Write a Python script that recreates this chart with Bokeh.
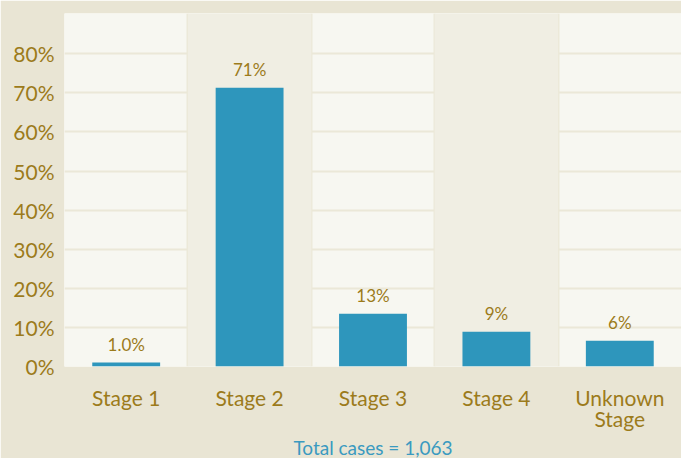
from bokeh.plotting import figure
from bokeh.models import FixedTicker, PrintfTickFormatter, ColumnDataSource, Range1d, BoxAnnotation, Title
from bokeh.core.properties import value
from bokeh.embed import file_html
from bokeh.resources import INLINE

categories = ["Stage 1", "Stage 2", "Stage 3", "Stage 4", "Unknown\nStage"]
shares = [1.0, 71.3, 13.5, 8.9, 6.6]
share_labels = ["1.0%", "71%", "13%", "9%", "6%"]
y_ticks = [0, 10, 20, 30, 40, 50, 60, 70, 80]
total_label = "Total cases = 1,063"

GOLD = "#9c7b1b"
BLUE = "#2e96bc"
FONT = "Lato"

xs = [i + 0.5 for i in range(len(categories))]
src = ColumnDataSource(dict(x=xs, top=shares, lab=share_labels))

p = figure(width=681, height=458, output_backend="svg", toolbar_location=None,
           x_range=Range1d(0, len(categories)), y_range=Range1d(0, 90.3),
           min_border_left=64, min_border_right=0, min_border_top=13, min_border_bottom=92)
p.outline_line_color = None
p.border_fill_color = "#e9e5d4"
p.background_fill_color = "#f7f7f1"

for i in (1, 3):
    p.add_layout(BoxAnnotation(left=i, right=i + 1, fill_color="#f0eee3", fill_alpha=1,
                               line_color=None, level="underlay"))

p.vbar(x="x", top="top", width=0.55, bottom=0, source=src, fill_color=BLUE, line_color=None)
p.text(x="x", y="top", text="lab", source=src, text_align="center", text_baseline="bottom",
       y_offset=-8, text_color=GOLD, text_font=value(FONT), text_font_size="17px")

p.xaxis.ticker = FixedTicker(ticks=xs)
p.xaxis.major_label_overrides = {x: c for x, c in zip(xs, categories)}
p.xgrid.ticker = FixedTicker(ticks=list(range(len(categories) + 1)))
p.xgrid.grid_line_color = "#ebe8d8"
p.xgrid.grid_line_width = 2
p.ygrid.ticker = FixedTicker(ticks=y_ticks)
p.ygrid.grid_line_color = "#ebe8d8"
p.ygrid.grid_line_width = 2
p.yaxis.ticker = FixedTicker(ticks=y_ticks)
p.yaxis.formatter = PrintfTickFormatter(format="%d%%")

for ax in (p.xaxis, p.yaxis):
    ax.axis_line_color = None
    ax.major_tick_line_color = None
    ax.minor_tick_line_color = None
    ax.major_tick_out = 0
    ax.major_tick_in = 0
    ax.major_label_text_color = GOLD
    ax.major_label_text_font = FONT
    ax.major_label_text_font_size = "21px"

p.xaxis.major_label_text_line_height = 0.85
p.yaxis.major_label_standoff = 10
p.xaxis.major_label_standoff = 18

p.add_layout(Title(text=total_label, align="center", text_color="#3a9ac0", text_font=FONT,
                   text_font_size="19px", text_font_style="normal", standoff=0, offset=0), "below")

open("out.html", "w").write(file_html(p, INLINE))
